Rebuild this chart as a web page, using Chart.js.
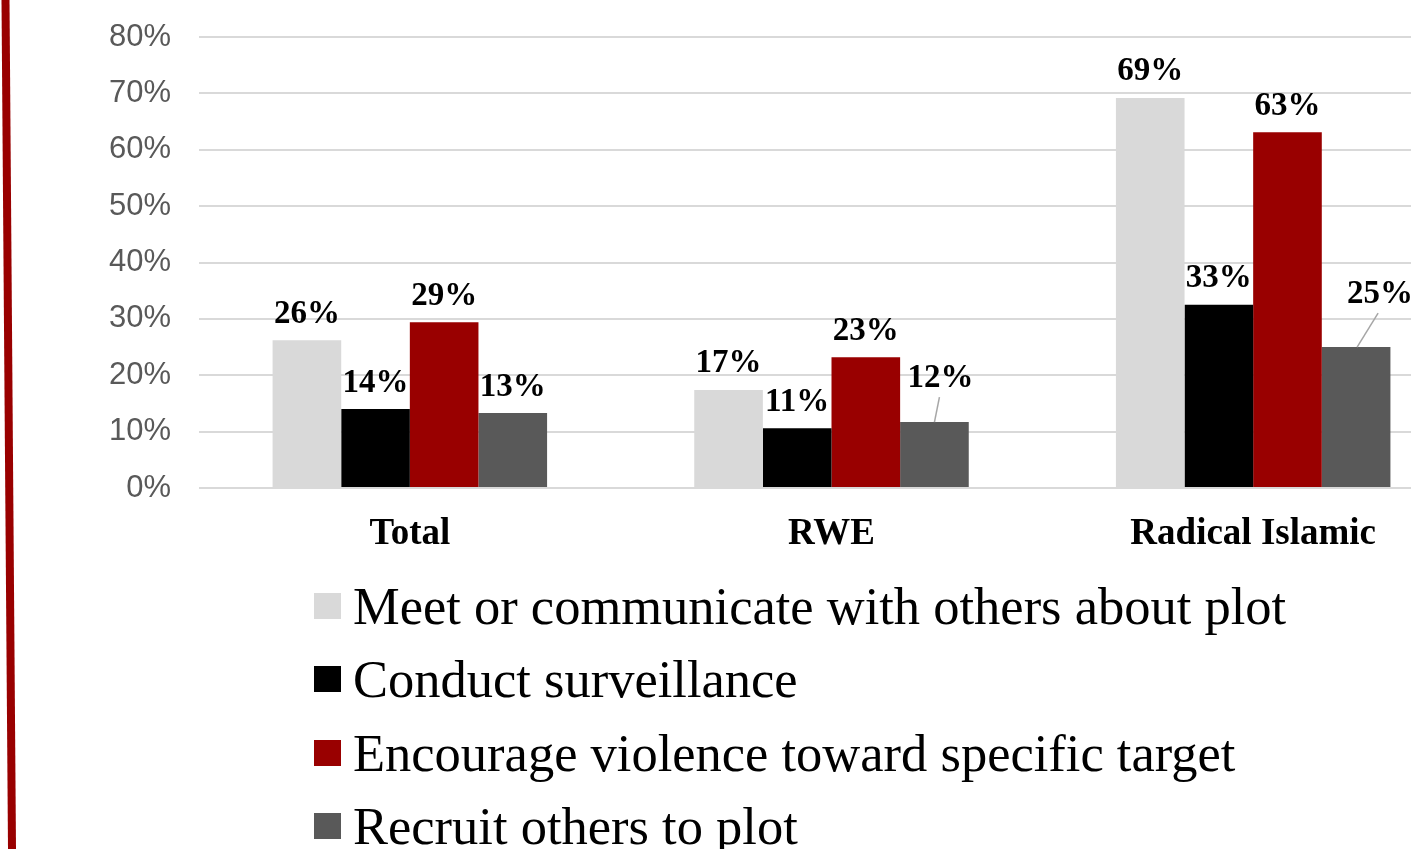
<!DOCTYPE html>
<html>
<head>
<meta charset="utf-8">
<script src="https://cdn.jsdelivr.net/npm/chart.js@4"></script>
<style>
  html, body { margin: 0; padding: 0; background: #fff; overflow: hidden; width: 1411px; height: 849px; }
  #wrap { position: relative; width: 1411px; height: 849px; overflow: hidden; }
  #chart { position: absolute; left: 0; top: 0; }
  #edge { position: absolute; left: 0; top: 0; }
  #legend { position: absolute; left: 314px; top: 569px; font-family: "Liberation Serif", "Times New Roman", serif; font-size: 52.5px; color: #000; }
  .row { display: flex; align-items: center; height: 73.5px; white-space: nowrap; }
  .box { width: 27px; height: 26px; margin-right: 12px; flex: none; }
</style>
</head>
<body>
<div id="wrap">
  <canvas id="chart" width="1464" height="570"></canvas>
  <svg id="edge" width="30" height="849"><line x1="5.5" y1="0" x2="12" y2="849" stroke="#990000" stroke-width="8"/></svg>
  <div id="legend"></div>
</div>
<script>
// categories and series (percent of plots)
var categories = ['Total', 'RWE', 'Radical Islamic'];
var seriesNames = [
    'Meet or communicate with others about plot',
    'Conduct surveillance',
    'Encourage violence toward specific target',
    'Recruit others to plot'
];
var meetValues = [26.2, 17.4, 69.2];
var surveillanceValues = [14.0, 10.6, 32.5];
var encourageValues = [29.4, 23.2, 63.1];
var recruitValues = [13.3, 11.7, 25.0];
var yTicks = ['0%', '10%', '20%', '30%', '40%', '50%', '60%', '70%', '80%'];

var colors = ['#d9d9d9', '#000000', '#990000', '#595959'];
var allValues = [meetValues, surveillanceValues, encourageValues, recruitValues];

// a few labels were nudged off their bars, with a leader line
var labelShift = {
    '3-1': { dx: 6, dy: 46, line: [0, 0, 5, -25] },
    '3-2': { dx: 24, dy: 55, line: [1, 0, 22, -34] }
};

var barLabels = {
    id: 'barLabels',
    afterDatasetsDraw: function(chart) {
        var ctx = chart.ctx;
        ctx.save();
        ctx.font = 'bold 33px "Liberation Serif", "Times New Roman", serif';
        ctx.fillStyle = '#000';
        ctx.textAlign = 'center';
        ctx.textBaseline = 'middle';
        chart.data.datasets.forEach(function(ds, di) {
            var meta = chart.getDatasetMeta(di);
            meta.data.forEach(function(bar, i) {
                var s = labelShift[di + '-' + i] || { dx: 0, dy: 28 };
                if (s.line) {
                    ctx.strokeStyle = '#a6a6a6';
                    ctx.lineWidth = 1.5;
                    ctx.beginPath();
                    ctx.moveTo(bar.x + s.line[0], bar.y + s.line[1]);
                    ctx.lineTo(bar.x + s.line[2], bar.y + s.line[3]);
                    ctx.stroke();
                }
                ctx.fillText(Math.round(ds.data[i]) + '%', bar.x + s.dx, bar.y - s.dy + 2);
            });
        });
        ctx.restore();
    }
};

var ctx = document.getElementById('chart').getContext('2d');
var chart = new Chart(ctx, {
    type: 'bar',
    data: {
        labels: categories,
        datasets: seriesNames.map(function(name, i) {
            return {
                label: name,
                data: allValues[i],
                backgroundColor: colors[i],
                borderWidth: 0,
                categoryPercentage: 0.651,
                barPercentage: 1.0
            };
        })
    },
    options: {
        responsive: false,
        animation: false,
        layout: { padding: { top: 37, left: 0, right: 0, bottom: 0 } },
        plugins: {
            legend: { display: false },
            tooltip: { enabled: false }
        },
        scales: {
            x: {
                grid: { display: false },
                border: { display: false },
                ticks: {
                    color: '#000',
                    font: { family: '"Liberation Serif", "Times New Roman", serif', size: 37, weight: 'bold' },
                    padding: 16,
                    maxRotation: 0,
                    autoSkip: false
                },
                afterFit: function(scale) { scale.height = 82; }
            },
            y: {
                min: 0,
                max: 80,
                border: { display: false },
                grid: { color: '#d9d9d9', lineWidth: 2, drawTicks: false },
                ticks: {
                    stepSize: 10,
                    color: '#595959',
                    padding: 28,
                    font: { family: '"Liberation Sans", Arial, sans-serif', size: 31 },
                    callback: function(v) { return yTicks[Math.round(v / 10)]; }
                },
                afterFit: function(scale) {
                    scale.width = 199;
                    // the tick padding is only meant to push labels left
                    scale.paddingTop = 0;
                    scale.paddingBottom = 0;
                }
            }
        }
    },
    plugins: [barLabels]
});

// legend built from the chart's own datasets
var legend = document.getElementById('legend');
chart.data.datasets.forEach(function(ds) {
    var row = document.createElement('div');
    row.className = 'row';
    var box = document.createElement('span');
    box.className = 'box';
    box.style.background = ds.backgroundColor;
    var txt = document.createElement('span');
    txt.textContent = ds.label;
    row.appendChild(box);
    row.appendChild(txt);
    legend.appendChild(row);
});
</script>
</body>
</html>
